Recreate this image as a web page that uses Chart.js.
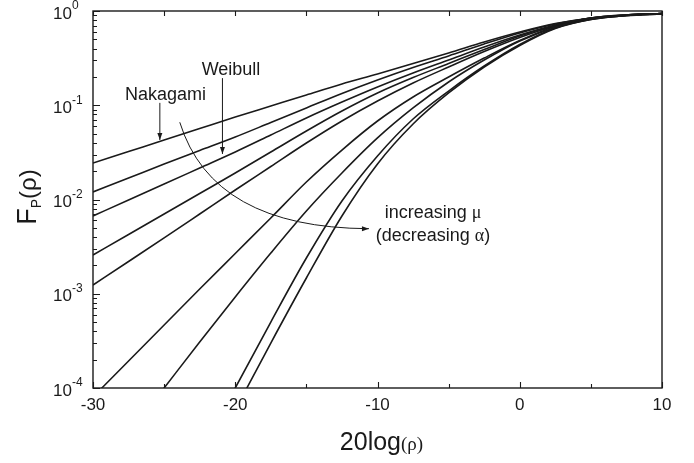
<!DOCTYPE html>
<html>
<head>
<meta charset="utf-8">
<script src="https://cdn.jsdelivr.net/npm/chart.js@4"></script>
<style>
  html, body { margin: 0; padding: 0; background: #fff; }
  #wrap { width: 694px; height: 463px; position: relative; }
</style>
</head>
<body>
<div id="wrap"><canvas id="cdf"></canvas></div>
<script>
// DATA - as log10 F_P, curves listed top to bottom (at -30 dB)
var dB = [-30, -27.5, -25, -22.5, -20, -17.5, -15, -12.5, -10, -7.5, -5, -2.5, 0, 2.5, 5, 7.5, 10]
var lg1 = [-1.613, -1.491, -1.369, -1.247, -1.125, -1.008, -0.891, -0.775, -0.668, -0.557, -0.446, -0.329, -0.223, -0.133, -0.080, -0.050, -0.032] // Nakagami
var lg2 = [-1.920, -1.772, -1.623, -1.480, -1.337, -1.183, -1.029, -0.875, -0.732, -0.599, -0.477, -0.350, -0.233, -0.138, -0.076, -0.045, -0.032] // Weibull
var lg3 = [-2.175, -2.005, -1.836, -1.666, -1.496, -1.316, -1.135, -0.966, -0.806, -0.658, -0.520, -0.382, -0.255, -0.149, -0.074, -0.042, -0.027]
var lg4 = [-2.589, -2.371, -2.154, -1.936, -1.719, -1.496, -1.273, -1.061, -0.870, -0.706, -0.557, -0.408, -0.265, -0.154, -0.074, -0.042, -0.027]
var lg5 = [-2.907, -2.658, -2.408, -2.154, -1.899, -1.650, -1.401, -1.167, -0.955, -0.764, -0.594, -0.430, -0.281, -0.159, -0.074, -0.042, -0.027]
var lg6 = [-4.095, -3.714, -3.332, -2.950, -2.573, -2.196, -1.814, -1.475, -1.167, -0.912, -0.700, -0.499, -0.313, -0.164, -0.085, -0.042, -0.027]
var lg7 = [-4.997, -4.488, -4.000, -3.512, -3.034, -2.568, -2.122, -1.719, -1.347, -1.029, -0.753, -0.520, -0.318, -0.175, -0.085, -0.042, -0.027]
var lg8 = [null, null, -5.485, -4.711, -4.000, -3.300, -2.621, -2.016, -1.538, -1.146, -0.849, -0.584, -0.355, -0.180, -0.090, -0.048, -0.027]
var lg9 = [null, null, null, -4.944, -4.233, -3.523, -2.833, -2.175, -1.623, -1.199, -0.870, -0.594, -0.366, -0.186, -0.090, -0.048, -0.027]
var curves = [lg1, lg2, lg3, lg4, lg5, lg6, lg7, lg8, lg9]

// AXES
var xMajor = [-30, -20, -10, 0, 10]
var xMinor = [-25, -15, -5, 5]
var yExp = [-4, -3, -2, -1, 0]

// COLORS / FONT
var ink = '#1a1a1a'
var sans = '"Liberation Sans", Arial, sans-serif'
var serif = '"Liberation Serif", "Times New Roman", serif'

function points (arr) {
  var out = []
  arr.forEach(function (v, i) { if (v !== null) out.push({ x: dB[i], y: Math.pow(10, v) }) })
  return out
}

var datasets = curves.map(function (c) {
  return {
    data: points(c),
    borderColor: ink,
    borderWidth: 1.6,
    pointRadius: 0,
    fill: false,
    cubicInterpolationMode: 'monotone'
  }
})

// draws text made of pieces in different fonts, centred on cx
function mixed (ctx, parts, cx, y) {
  var total = 0
  parts.forEach(function (p) { ctx.font = p[1]; total += ctx.measureText(p[0]).width })
  var x = cx - total / 2
  ctx.textAlign = 'left'
  parts.forEach(function (p) {
    ctx.font = p[1]
    ctx.fillText(p[0], x, y + (p[2] || 0))
    x += ctx.measureText(p[0]).width
  })
}

// frame, inward ticks, tick labels, titles and the annotations
var decor = {
  id: 'decor',
  afterDraw: function (chart) {
    var ctx = chart.ctx
    var a = chart.chartArea
    var xs = chart.scales.x
    var ys = chart.scales.y
    var X = function (v) { return xs.getPixelForValue(v) }
    var Y = function (v) { return ys.getPixelForValue(v) }
    ctx.save()
    ctx.strokeStyle = ink
    ctx.fillStyle = ink
    ctx.lineWidth = 1.4
    ctx.strokeRect(a.left, a.top, a.right - a.left, a.bottom - a.top)

    ctx.lineWidth = 1.1
    ctx.beginPath()
    xMajor.concat(xMinor).forEach(function (v) {
      var px = Math.round(X(v)) + 0.5
      var len = xMajor.indexOf(v) >= 0 ? 6 : 4
      ctx.moveTo(px, a.bottom); ctx.lineTo(px, a.bottom - len)
      ctx.moveTo(px, a.top); ctx.lineTo(px, a.top + 5)
    })
    yExp.forEach(function (e) {
      var py = Math.round(Y(Math.pow(10, e))) + 0.5
      ctx.moveTo(a.left, py); ctx.lineTo(a.left + 7, py)
      if (e < 0) {
        for (var m = 2; m <= 9; m++) {
          var q = Math.round(Y(m * Math.pow(10, e))) + 0.5
          ctx.moveTo(a.left, q); ctx.lineTo(a.left + 4, q)
        }
      }
    })
    ctx.stroke()

    // x tick labels
    ctx.font = '17px ' + sans
    ctx.textAlign = 'center'
    ctx.textBaseline = 'middle'
    xMajor.forEach(function (v) {
      ctx.fillText(String(v), X(v), a.bottom + 17)
    })
    // y tick labels 10^e
    ctx.textAlign = 'left'
    yExp.forEach(function (e) {
      var py = Y(Math.pow(10, e))
      ctx.font = '17px ' + sans
      ctx.fillText('10', 53, py + 3)
      var w = ctx.measureText('10').width
      ctx.font = '12px ' + sans
      ctx.fillText(String(e), 53 + w, py - 5)
    })

    // x title
    ctx.textBaseline = 'alphabetic'
    mixed(ctx, [['20log', '25px ' + sans], ['(ρ)', '19px ' + serif]], (a.left + a.right) / 2 + 4, 450)

    // y title, rotated
    ctx.save()
    ctx.translate(36, 197)
    ctx.rotate(-Math.PI / 2)
    mixed(ctx, [['F', '27px ' + sans], ['P', '14px ' + sans, 5], ['(ρ)', '24px ' + sans]], 0, 0)
    ctx.restore()

    // annotations
    ctx.textBaseline = 'middle'
    ctx.textAlign = 'center'
    ctx.font = '18px ' + sans
    ctx.fillText('Nakagami', X(-24.9), Y(0.128))
    ctx.fillText('Weibull', X(-20.3), Y(0.237))
    mixed(ctx, [['increasing ', '18px ' + sans], ['μ', '18px ' + serif]], X(-6.1), Y(0.0072))
    mixed(ctx, [['(decreasing ', '18px ' + sans], ['α', '18px ' + serif], [')', '18px ' + sans]], X(-6.1), Y(0.0041))

    ctx.lineWidth = 1
    arrow(ctx, X(-25.3), Y(0.106), X(-25.3), Y(0.0428))
    arrow(ctx, X(-20.9), Y(0.194), X(-20.9), Y(0.0304))

    // curved arrow across the family
    var p0 = [X(-23.9), Y(0.066)]
    var p1 = [X(-21.6), Y(0.0050)]
    var p2 = [X(-10.6), Y(0.0049)]
    ctx.beginPath()
    ctx.moveTo(p0[0], p0[1])
    ctx.quadraticCurveTo(p1[0], p1[1], p2[0], p2[1])
    ctx.stroke()
    ctx.beginPath()
    ctx.moveTo(p2[0], p2[1]); ctx.lineTo(p2[0] - 7, p2[1] - 2.5); ctx.lineTo(p2[0] - 7, p2[1] + 2.5)
    ctx.closePath(); ctx.fill()
    ctx.restore()
  }
}

function arrow (ctx, x0, y0, x1, y1) {
  ctx.beginPath()
  ctx.moveTo(x0, y0); ctx.lineTo(x1, y1)
  ctx.stroke()
  ctx.beginPath()
  ctx.moveTo(x1, y1); ctx.lineTo(x1 - 2.5, y1 - 7); ctx.lineTo(x1 + 2.5, y1 - 7)
  ctx.closePath()
  ctx.fill()
}

new Chart(document.getElementById('cdf'), {
  type: 'line',
  data: { datasets: datasets },
  options: {
    responsive: true,
    maintainAspectRatio: false,
    animation: false,
    layout: { padding: { top: 11, right: 32, left: 0, bottom: 0 } },
    plugins: { legend: { display: false }, tooltip: { enabled: false } },
    scales: {
      x: {
        type: 'linear', min: -30, max: 10,
        grid: { display: false }, border: { display: false },
        ticks: { display: false },
        afterFit: function (s) { s.height = 75 }
      },
      y: {
        type: 'logarithmic', min: 0.0001, max: 1,
        grid: { display: false }, border: { display: false },
        ticks: { display: false },
        afterFit: function (s) { s.width = 93 }
      }
    }
  },
  plugins: [decor]
})
</script>
</body>
</html>
